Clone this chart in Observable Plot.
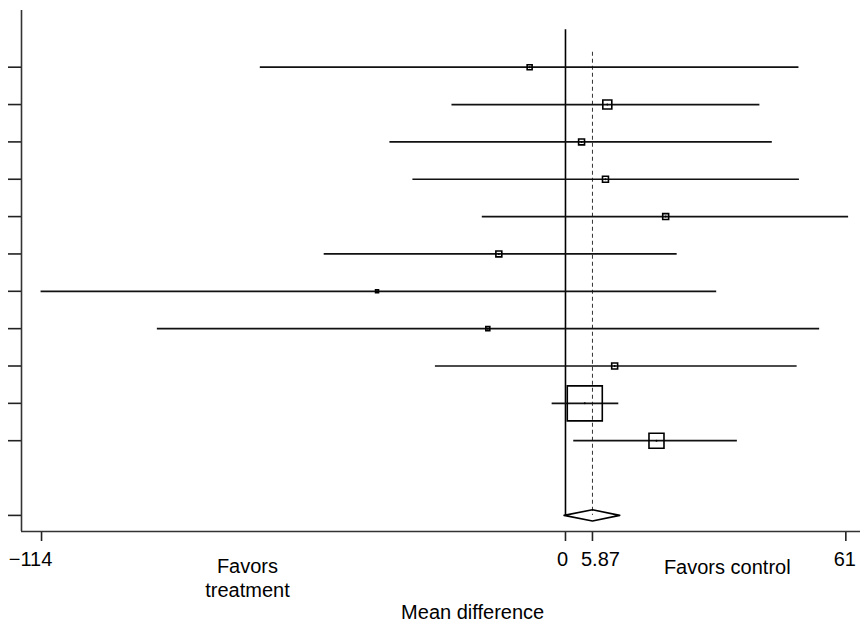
<!DOCTYPE html>
<html>
<head>
<meta charset="utf-8">
<script src="https://cdn.jsdelivr.net/npm/d3@7"></script>
<script src="https://cdn.jsdelivr.net/npm/@observablehq/plot@0.6"></script>
<style>
  html, body { margin: 0; padding: 0; background: #fff; }
  #chart { width: 860px; height: 623px; }
</style>
</head>
<body>
<div id="chart"></div>
<script>
// ---- data ----
const rows      = [1, 2, 3, 4, 5, 6, 7, 8, 9, 10, 11];
const estimates = [-7.8, 9.1, 3.5, 8.7, 21.8, -14.5, -41.0, -16.9, 10.7, 4.2, 19.8];
const lower     = [-66.4, -24.7, -38.2, -33.2, -18.1, -52.5, -114.1, -88.8, -28.3, -2.9, 1.8];
const upper     = [50.8, 42.3, 45.0, 50.9, 61.6, 24.3, 32.9, 55.3, 50.4, 11.6, 37.4];
const weights   = [1.4, 4.6, 2.0, 2.0, 2.0, 2.0, 0.5, 0.9, 2.0, 69.6, 12.8];

const pooledRow = 13;
const pooledEst = 5.87;
const pooledLower = -0.3;
const pooledUpper = 11.8;

const xTicks = [-114, 0, 5.87, 61];
const xTickLabels = ["\u2212114", "0", "5.87", "61"];
const yTicks = [1, 2, 3, 4, 5, 6, 7, 8, 9, 10, 11, 13];

const xTitle = "Mean difference";
const leftNote = "Favors\ntreatment";
const rightNote = "Favors control";

// ---- build tables ----
const studies = rows.map((row, i) => ({row, est: estimates[i], lo: lower[i], hi: upper[i], w: weights[i]}));
const dh = 0.15;
const diamond = [
  {x: pooledLower, y: pooledRow},
  {x: pooledEst, y: pooledRow - dh},
  {x: pooledUpper, y: pooledRow},
  {x: pooledEst, y: pooledRow + dh},
  {x: pooledLower, y: pooledRow}
];

const font = "'Liberation Sans', Arial, Helvetica, sans-serif";
const fs = 20;
const tickOffsets = [-11, -3, 8, -1];

const tickLabelMarks = xTicks.map((v, i) =>
  Plot.text([v], {x: d => d, text: () => xTickLabels[i], frameAnchor: "bottom",
    dy: 34, dx: tickOffsets[i], lineAnchor: "bottom", fontSize: fs, fill: "#000"})
);

const chart = Plot.plot({
  width: 860,
  height: 623,
  marginTop: 10,
  marginLeft: 21,
  marginRight: 0,
  marginBottom: 92,
  x: {domain: [-118.36, 64.19]},
  y: {domain: [-0.518, 13.431], reverse: true},
  r: {type: "sqrt", domain: [0, 69.6], range: [0, 19.75]},
  style: {fontFamily: font, fontSize: fs + "px", color: "#000", background: "#fff"},
  marks: [
    // axes
    Plot.axisY({ticks: yTicks, tickSize: 13, tickFormat: () => "", label: null, stroke: "#222", strokeWidth: 1.6}),
    Plot.axisX({ticks: xTicks, tickSize: 10, tickFormat: () => "", label: null, stroke: "#222", strokeWidth: 1.6}),
    Plot.ruleX([-118.36], {stroke: "#333", strokeWidth: 1.6}),
    Plot.ruleY([13.431], {stroke: "#333", strokeWidth: 1.6}),
    // reference lines
    Plot.ruleX([0], {y1: 0, y2: pooledRow, stroke: "#000", strokeWidth: 1.6}),
    Plot.ruleX([pooledEst], {y1: 0.6, y2: pooledRow, stroke: "#333", strokeWidth: 1, strokeDasharray: "4,3"}),
    // confidence intervals
    Plot.ruleY(studies, {y: "row", x1: "lo", x2: "hi", stroke: "#111", strokeWidth: 1.7}),
    // weight boxes
    Plot.dot(studies, {x: "est", y: "row", r: "w", symbol: "square", stroke: "#000", fill: "none", strokeWidth: 1.6}),
    Plot.dot(studies, {x: "est", y: "row", r: 1, fill: "#000", stroke: "none"}),
    // pooled diamond
    Plot.line(diamond, {x: "x", y: "y", stroke: "#000", strokeWidth: 1.6, fill: "none"}),
    // tick labels
    ...tickLabelMarks,
    // annotations
    Plot.text([leftNote], {x: -69.2, text: d => d, frameAnchor: "bottom", dy: 65, lineAnchor: "bottom", lineHeight: 1.17, fontSize: fs, fill: "#000"}),
    Plot.text([rightNote], {x: 35.2, text: d => d, frameAnchor: "bottom", dy: 42, lineAnchor: "bottom", fontSize: fs, fill: "#000"}),
    Plot.text([xTitle], {x: -20.2, text: d => d, frameAnchor: "bottom", dy: 87, lineAnchor: "bottom", fontSize: fs, fill: "#000"})
  ]
});

document.getElementById("chart").appendChild(chart);
</script>
</body>
</html>
